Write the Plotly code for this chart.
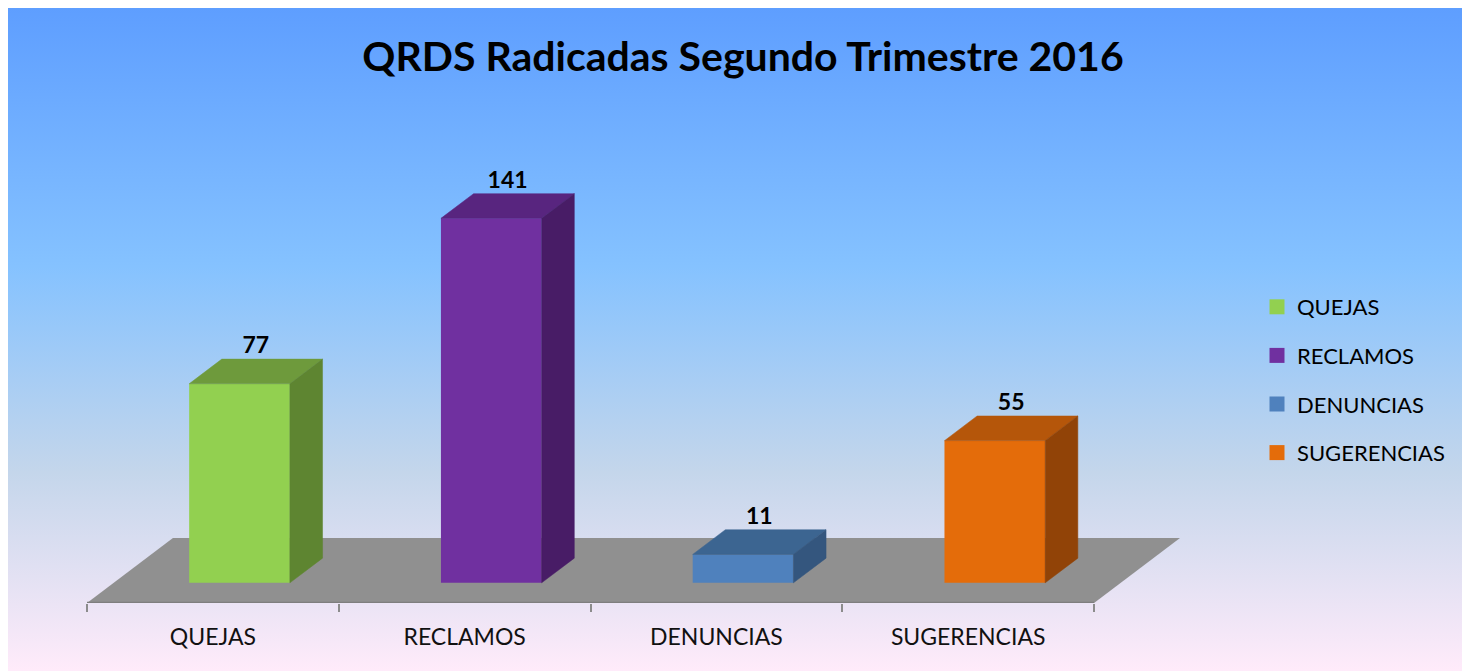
import base64
import plotly.graph_objects as go

# ---------------- data ----------------
categories = ["QUEJAS", "RECLAMOS", "DENUNCIAS", "SUGERENCIAS"]
values = [77, 141, 11, 55]
front_colors = ["#92D050", "#7030A0", "#4F81BD", "#E46C0A"]
top_colors = ["#6E9A3C", "#58257F", "#3C6591", "#B5560A"]
side_colors = ["#5E8531", "#481C66", "#34567E", "#914307"]
title_text = "QRDS Radicadas Segundo Trimestre 2016"

# ---------------- layout geometry (figure pixels) ----------------
W, H = 1462, 663
PL, PR, PT, PB = 79, 1172, 112, 595      # plot area in pixels
DX = 0.3413                              # depth offset (category units)
YTOP = 186.85                            # y-range top (value units)
DY = 65 / ((PB - PT) / YTOP)             # depth offset (value units)
D0, D1 = 0.31, 0.69                      # bar depth span (fraction of floor depth)
BW = 0.40                                # bar width (category units)
n = len(categories)
XMIN, XMAX = -0.5, n - 0.5 + DX


def paper_x(px):
    return (px - PL) / (PR - PL)


def paper_y(px):
    return (PB - px) / (PB - PT)


fig = go.Figure()

# faces of the 3D columns
for i, (cat, v) in enumerate(zip(categories, values)):
    shift = D0 * DX
    x0 = i - BW / 2 + shift
    x1 = i + BW / 2 + shift
    yb = D0 * DY
    yt = yb + v
    ddx = (D1 - D0) * DX
    ddy = (D1 - D0) * DY
    # front face
    fig.add_trace(go.Bar(
        x=[i + shift], y=[v], base=[yb], width=[BW],
        marker=dict(color=front_colors[i], line=dict(width=0)),
        showlegend=False, hoverinfo="skip", name=cat,
    ))
    # top face
    fig.add_trace(go.Scatter(
        x=[x0, x1, x1 + ddx, x0 + ddx, x0],
        y=[yt, yt, yt + ddy, yt + ddy, yt],
        fill="toself", fillcolor=top_colors[i], mode="lines",
        line=dict(width=0.5, color=top_colors[i]),
        showlegend=False, hoverinfo="skip",
    ))
    # side face
    fig.add_trace(go.Scatter(
        x=[x1, x1 + ddx, x1 + ddx, x1, x1],
        y=[yb, yb + ddy, yt + ddy, yt, yb],
        fill="toself", fillcolor=side_colors[i], mode="lines",
        line=dict(width=0.5, color=side_colors[i]),
        showlegend=False, hoverinfo="skip",
    ))

# data labels
fig.add_trace(go.Scatter(
    x=[i + 0.5 * DX for i in range(n)],
    y=[D1 * DY + v for v in values],
    mode="text",
    text=[f"<b>{v}</b>" for v in values],
    textposition="top center",
    textfont=dict(family="Lato", size=23, color="#000000"),
    showlegend=False, hoverinfo="skip",
))

# legend entries
for i, cat in enumerate(categories):
    fig.add_trace(go.Scatter(
        x=[None], y=[None], mode="markers", name=cat, legendgroup=cat,
        marker=dict(symbol="square", size=15, color=front_colors[i]),
    ))

# background gradient (Office "Daybreak" style)
svg = (
    '<svg xmlns="http://www.w3.org/2000/svg" width="100" height="100" '
    'viewBox="0 0 100 100" preserveAspectRatio="none">'
    '<defs><linearGradient id="g" x1="0" y1="0" x2="0" y2="1">'
    '<stop offset="0" stop-color="#5E9EFF"/>'
    '<stop offset="0.39" stop-color="#85C2FF"/>'
    '<stop offset="0.70" stop-color="#C4D6EB"/>'
    '<stop offset="1" stop-color="#FFEBFA"/>'
    '</linearGradient></defs>'
    '<rect x="0" y="0" width="100" height="100" fill="url(#g)"/></svg>'
)
src = "data:image/svg+xml;base64," + base64.b64encode(svg.encode()).decode()

floor_path = (
    f"M {XMIN},0 L {n - 0.5},0 L {n - 0.5 + DX},{DY} L {XMIN + DX},{DY} Z"
)

fig.update_layout(
    width=W, height=H,
    template="none",
    paper_bgcolor="#FFFFFF",
    plot_bgcolor="rgba(0,0,0,0)",
    margin=dict(l=PL, r=W - PR, t=PT, b=H - PB, pad=0),
    barmode="overlay",
    showlegend=True,
    title=dict(
        text=f"<b>{title_text}</b>",
        font=dict(family="Lato", size=41, color="#000000"),
        xref="container", yref="container",
        x=735 / W, y=1 - 49 / H, xanchor="center", yanchor="middle",
    ),
    legend=dict(
        x=paper_x(1249), y=paper_y(278), xanchor="left", yanchor="top",
        font=dict(family="Lato", size=22, color="#000000"),
        bgcolor="rgba(0,0,0,0)", tracegroupgap=17,
        itemclick=False, itemdoubleclick=False,
    ),
    xaxis=dict(
        range=[XMIN, XMAX], automargin=False,
        showgrid=False, zeroline=False, showline=False,
        tickmode="array", tickvals=list(range(n)), ticktext=categories,
        ticks="", ticklabelstandoff=18,
        tickfont=dict(family="Lato", size=23, color="#111111"),
        minor=dict(tickmode="array",
                   tickvals=[k - 0.5 for k in range(n + 1)],
                   ticks="outside", ticklen=8, tickwidth=1.5,
                   tickcolor="#8C8C8C", showgrid=False),
        fixedrange=True,
    ),
    yaxis=dict(
        range=[0, YTOP], automargin=False, visible=False,
        showgrid=False, zeroline=False, fixedrange=True,
    ),
    images=[dict(
        source=src, xref="paper", yref="paper",
        x=paper_x(0), y=paper_y(0),
        sizex=W / (PR - PL), sizey=H / (PB - PT),
        sizing="stretch", xanchor="left", yanchor="top",
        layer="below",
    )],
    shapes=[
        dict(type="path", path=floor_path, xref="x", yref="y",
             fillcolor="#909090", line=dict(width=0), layer="below"),
        dict(type="line", x0=XMIN, x1=n - 0.5, y0=0, y1=0, xref="x", yref="y",
             line=dict(color="#7E7E7E", width=2.5), layer="below"),
    ],
)

fig.write_html(
    "out.html",
    config={"displayModeBar": False},
    post_script="document.body.style.overflow='hidden';",
)
